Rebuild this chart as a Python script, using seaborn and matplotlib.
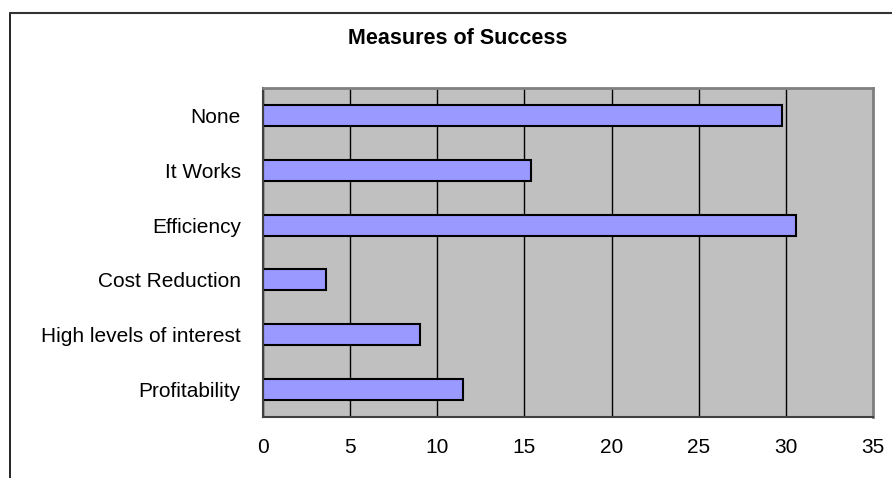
import matplotlib
matplotlib.use("Agg")
import matplotlib.pyplot as plt
from matplotlib.lines import Line2D
import seaborn as sns
import pandas as pd
import numpy as np

# Measures of Success - horizontal bars, Excel style

categories = ["None", "It Works", "Efficiency", "Cost Reduction",
              "High levels of interest", "Profitability"]
values = [29.8, 15.4, 30.6, 3.6, 9.0, 11.5]
x_ticks = [0, 5, 10, 15, 20, 25, 30, 35]

df = pd.DataFrame({"measure": categories, "value": values})

sns.set_style("white")
plt.rcParams["font.family"] = ["Liberation Sans", "DejaVu Sans"]
plt.rcParams["text.color"] = "black"
plt.rcParams["xtick.color"] = "black"
plt.rcParams["ytick.color"] = "black"

W, H = 892, 478
fig = plt.figure(figsize=(W / 100, H / 100), dpi=100)
ax = fig.add_axes([263 / W, 1 - 417 / H, (873 - 263) / W, (417 - 88) / H])

sns.barplot(data=df, x="value", y="measure", orient="h", order=categories,
            color="#9999FF", saturation=1, edgecolor="black", linewidth=1.5,
            width=0.38, ax=ax)

ax.set_facecolor("#C0C0C0")
ax.set_xlim(0, 35)
ax.set_ylim(5.5, -0.5)
ax.set_xticks(x_ticks)
ax.set_xticklabels([str(t) for t in x_ticks], fontsize=15)
ax.xaxis.grid(True, color="black", linewidth=1)
ax.set_axisbelow(True)
ax.set_xlabel("")
ax.set_ylabel("")

ax.tick_params(axis="y", which="major", length=0, pad=16, labelsize=15, labelcolor="black")
ax.set_yticks(np.arange(-0.5, 6, 1), minor=True)
ax.tick_params(axis="y", which="minor", length=6, width=1.2, color="#404040", direction="out")
ax.tick_params(axis="x", which="major", length=6, width=1.2, color="#404040",
               direction="out", pad=9, labelcolor="black")

for s in ["left", "bottom"]:
    ax.spines[s].set_color("#404040")
    ax.spines[s].set_linewidth(1.5)
for s in ["top", "right"]:
    ax.spines[s].set_color("#808080")
    ax.spines[s].set_linewidth(2)

fig.text(457.5 / W, 1 - 39 / H, "Measures of Success", ha="center", va="center",
         fontsize=15.5, fontweight="bold", color="black")

# outer chart frame (left and top edges visible)
fig.add_artist(Line2D([10 / W, 10 / W], [0, 1 - 13 / H], color="black", linewidth=1.2))
fig.add_artist(Line2D([10 / W, 1], [1 - 13 / H, 1 - 13 / H], color="#333333", linewidth=1.5))

fig.savefig("out.png", dpi=100)
